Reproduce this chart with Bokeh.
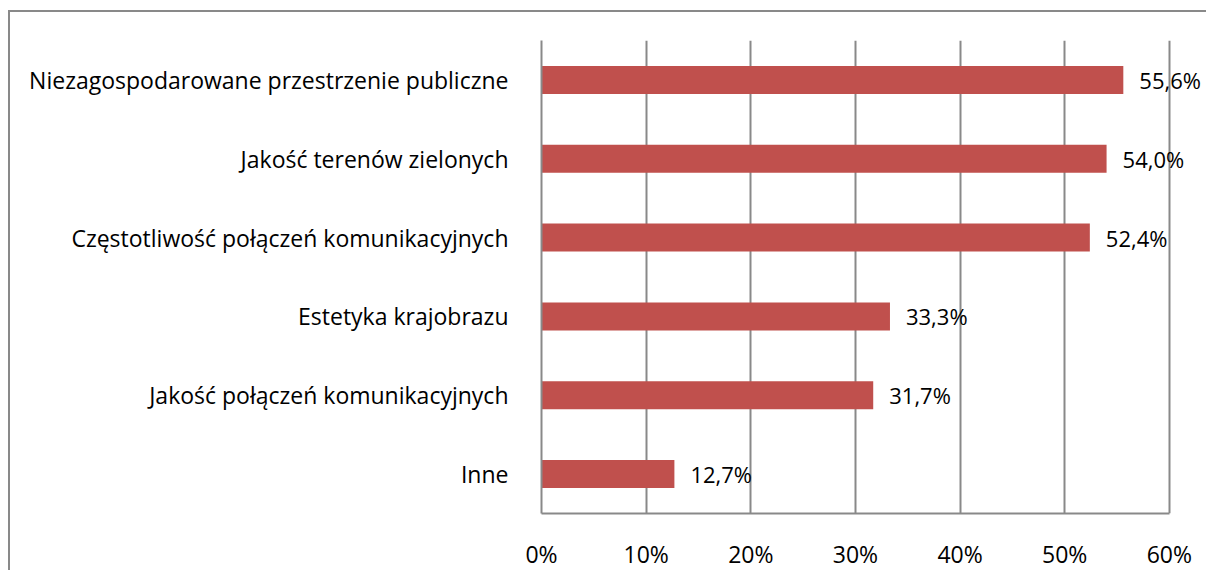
from bokeh.plotting import figure
from bokeh.models import FixedTicker, PrintfTickFormatter, ColumnDataSource, LabelSet
from bokeh.core.properties import value
from bokeh.embed import file_html
from bokeh.resources import INLINE

categories = [
    "Niezagospodarowane przestrzenie publiczne",
    "Jakość terenów zielonych",
    "Częstotliwość połączeń komunikacyjnych",
    "Estetyka krajobrazu",
    "Jakość połączeń komunikacyjnych",
    "Inne",
]
values = [55.6, 54.0, 52.4, 33.3, 31.7, 12.7]
tick_values = [0, 10, 20, 30, 40, 50, 60]

FONT = "Open Sans"
FS = "23px"
GRAY = "#898989"
labels = [f"{v:.1f}".replace(".", ",") + "%" for v in values]

src = ColumnDataSource(dict(cat=categories, val=values, lab=labels))

p = figure(
    width=1198, height=560,
    y_range=list(reversed(categories)),
    x_range=(0, 63.74),
    output_backend="svg", toolbar_location=None,
    min_border_left=531, min_border_right=0,
    min_border_top=28, min_border_bottom=50,
)
# outer chart border: only its top and left edges lie inside the window
p.styles = {
    "margin-left": "8px", "margin-top": "10px",
    "border-top": f"2px solid {GRAY}", "border-left": f"2px solid {GRAY}",
}
p.outline_line_color = None
p.background_fill_color = "white"
p.border_fill_color = "white"

p.hbar(y="cat", right="val", left=0, height=0.356, source=src,
       fill_color="#C0504D", line_color=None)
lbl = LabelSet(x="val", y="cat", text="lab", source=src, x_offset=16,
               text_align="left", text_baseline="middle",
               text_font=value(FONT), text_font_size=value("22px"),
               text_color="#000000")
p.add_layout(lbl)

p.xaxis.ticker = FixedTicker(ticks=tick_values)
p.xaxis.bounds = (0, 60)
p.xaxis.formatter = PrintfTickFormatter(format="%d%%")
p.xaxis.major_tick_line_color = None
p.xaxis.minor_tick_line_color = None
p.xaxis.axis_line_color = GRAY
p.xaxis.axis_line_width = 2
p.xaxis.major_label_standoff = 18
p.xaxis.major_label_text_font = FONT
p.xaxis.major_label_text_font_size = FS
p.xaxis.major_label_text_color = "#000000"

p.yaxis.major_tick_line_color = None
p.yaxis.minor_tick_line_color = None
p.yaxis.axis_line_color = GRAY
p.yaxis.axis_line_width = 2
p.yaxis.major_label_standoff = 27
p.yaxis.major_label_text_font = FONT
p.yaxis.major_label_text_font_size = FS
p.yaxis.major_label_text_color = "#000000"

p.xgrid.ticker = FixedTicker(ticks=tick_values)
p.xgrid.grid_line_color = GRAY
p.xgrid.grid_line_width = 2
p.ygrid.grid_line_color = None

open("out.html", "w").write(file_html(p, INLINE))
